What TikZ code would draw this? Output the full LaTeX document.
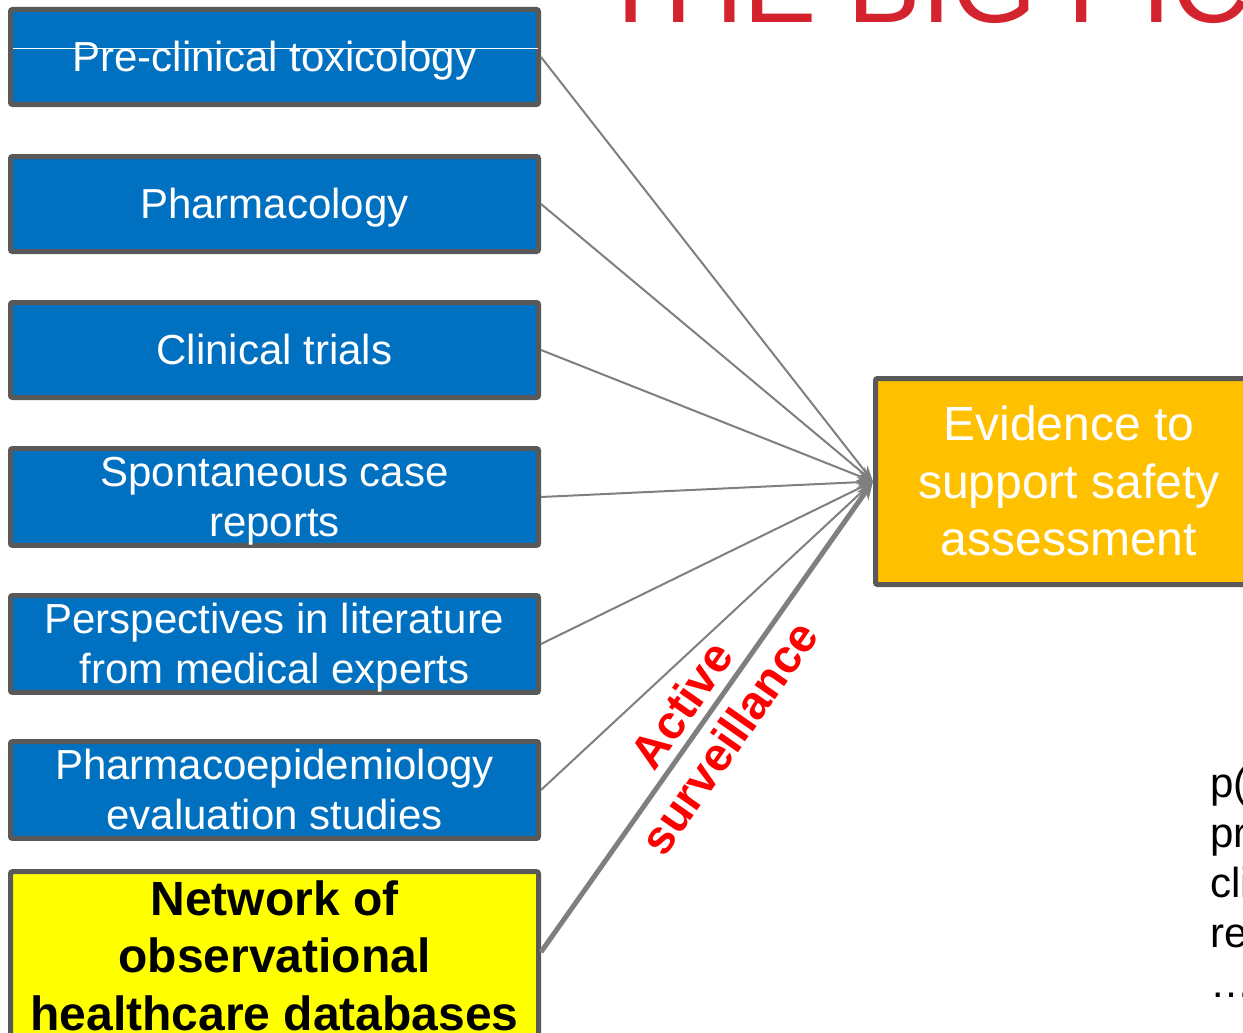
\documentclass[tikz,border=0pt]{standalone}
\usepackage{fontspec}
\setmainfont{Liberation Sans}
\usetikzlibrary{arrows.meta}
\definecolor{bordergray}{RGB}{89,89,89}
\definecolor{boxblue}{RGB}{0,112,192}
\definecolor{boxorange}{RGB}{255,192,0}
\definecolor{boxyellow}{RGB}{255,255,0}
\definecolor{linegray}{RGB}{127,127,127}
\definecolor{titlered}{RGB}{211,35,46}
\definecolor{asred}{RGB}{255,0,0}
% line struts (ascent/descent of the font, as a slide program sets them)
\newcommand{\smallstrut}{\rule[-8.9pt]{0pt}{46.9pt}}
\newcommand{\bigstrut}{\rule[-10.2pt]{0pt}{53.6pt}}
\begin{document}
\begin{tikzpicture}[x=1pt,y=-1pt,
  basebox/.style={draw=bordergray, line width=5pt, rounded corners=2pt, inner sep=0pt, align=center},
  srcbox/.style={basebox, fill=boxblue, text=white, minimum width=528pt, minimum height=95pt,
    font=\fontsize{42}{50}\selectfont},
  dbbox/.style={basebox, fill=boxyellow, text=black, minimum width=528pt, minimum height=165pt,
    font=\bfseries\fontsize{48}{57.5}\selectfont},
  evbox/.style={basebox, fill=boxorange, text=white, minimum width=386.5pt, minimum height=206pt,
    font=\fontsize{48}{57.5}\selectfont},
  feed/.style={draw=linegray, line width=2pt, -{Stealth[length=16pt,width=11pt]}},
  feedbold/.style={draw=linegray, line width=5pt, -{Stealth[length=18pt,width=14pt]}},
  sidetext/.style={anchor=base west, inner sep=0pt, text=black, font=\fontsize{42}{50}\selectfont}
]
\useasboundingbox (0,0) rectangle (1243,1033);

% title (cut by the page top)
\node[anchor=base west, inner sep=0pt, text=titlered, font=\fontsize{110}{110}\selectfont] (title) at (597,23) {THE BIG PIC};

% source boxes
\node[srcbox] (b1) at (274.5,57) {\smallstrut Pre-clinical toxicology};
\node[srcbox] (b2) at (274.5,204) {\smallstrut Pharmacology};
\node[srcbox] (b3) at (274.5,350) {\smallstrut Clinical trials};
\node[srcbox] (b4) at (274.5,497) {\smallstrut Spontaneous case\\\smallstrut reports};
\node[srcbox] (b5) at (274.5,644) {\smallstrut Perspectives in literature\\\smallstrut from medical experts};
\node[srcbox] (b6) at (274.5,790) {\smallstrut Pharmacoepidemiology\\\smallstrut evaluation studies};
\node[dbbox] (db) at (274.5,956) {\bigstrut Network of\\\bigstrut observational\\\bigstrut healthcare databases};

% thin white line across the first box
\draw[white, line width=1pt] ([xshift=5pt,yshift=8pt]b1.west) -- ([xshift=-3pt,yshift=8pt]b1.east);

% target box
\node[evbox] (ev) at (1068.75,481.5) {\bigstrut Evidence to\\\bigstrut support safety\\\bigstrut assessment};

% connectors
\draw[feed] (b1.east) -- (ev.west);
\draw[feed] (b2.east) -- (ev.west);
\draw[feed] (b3.east) -- (ev.west);
\draw[feed] (b4.east) -- (ev.west);
\draw[feed] (b5.east) -- (ev.west);
\draw[feed] (b6.east) -- (ev.west);
\draw[feedbold] ([yshift=4pt]db.east) -- (ev.west);

% label along the bold connector
\node[rotate=55, align=center, inner sep=0pt, text=asred, font=\bfseries\fontsize{47}{57}\selectfont] (as) at (705,721) {Active\\surveillance};

% side text (cut by the page edge)
\node[sidetext] (r1) at (1210,797) {p(};
\node[sidetext] (r2) at (1210,847) {pr};
\node[sidetext] (r3) at (1210,897) {cli};
\node[sidetext] (r4) at (1210,947) {re};
\node[sidetext] (r5) at (1210,997) {…};
\end{tikzpicture}
\end{document}
